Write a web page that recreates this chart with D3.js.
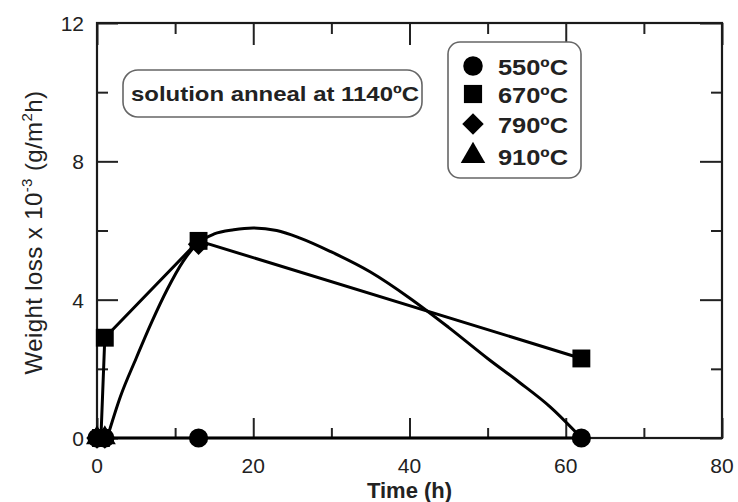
<!DOCTYPE html>
<html>
<head>
<meta charset="utf-8">
<script src="https://cdn.jsdelivr.net/npm/d3@7"></script>
<style>
  html, body { margin: 0; padding: 0; background: #fff; }
  svg { display: block; font-family: "Liberation Sans", Arial, Helvetica, sans-serif; }
</style>
</head>
<body>
<svg id="chart" width="738" height="502"></svg>
<script>
// ---------------- data ----------------
const seriesNames = ["550ºC", "670ºC", "790ºC", "910ºC"];
const symbolTypes = ["circle", "square", "diamond", "triangle"];

const times550 = [0, 1, 13, 62];
const loss550  = [0, 0, 0, 0];

const times670 = [0.5, 1, 13, 62];
const loss670  = [0, 2.9, 5.7, 2.3];

const times790 = [0, 1, 13];
const loss790  = [0, 0, 5.6];

const times910 = [0, 1];
const loss910  = [0, 0];

// smooth curve drawn through the 790ºC results
const curveTimes = [1.3, 3, 5, 7, 9, 11, 13, 15, 17.5, 20, 23, 26, 30, 35, 40, 45, 50, 54, 58, 62];
const curveLoss  = [0, 1.2, 2.3, 3.35, 4.3, 5.1, 5.65, 5.9, 6.02, 6.07, 6.0, 5.78, 5.38, 4.8, 4.05, 3.2, 2.3, 1.62, 0.9, 0];

const xMajorTicks = [0, 20, 40, 60, 80];
const xMinorTicks = [10, 30, 50, 70];
const yMajorTicks = [0, 4, 8, 12];
const yMinorTicks = [2, 6, 10];

const xTitle = "Time (h)";
const annotation = "solution anneal at 1140ºC";

// ---------------- layout ----------------
const svg = d3.select("#chart");
const L = 97, R = 722, T = 23, B = 438;
const x = d3.scaleLinear().domain([0, 80]).range([L, R]);
const y = d3.scaleLinear().domain([0, 12]).range([B, T]);

const zip = (a, b) => a.map((v, i) => [v, b[i]]);
const s550 = zip(times550, loss550);
const s670 = zip(times670, loss670);
const s790 = zip(times790, loss790);
const s910 = zip(times910, loss910);
const fit790 = zip(curveTimes, curveLoss);

// ---------------- axes / ticks ----------------
function addAxis(gen, transform, values, size) {
  const g = svg.append("g").attr("transform", transform)
    .call(gen.tickValues(values).tickSize(size).tickSizeOuter(0).tickPadding(0)
      .tickFormat(() => ""));
  g.select(".domain").remove();
  g.selectAll(".tick line").attr("stroke", "#222").attr("stroke-width", 2);
  return g;
}
// inward ticks: negative sizes
addAxis(d3.axisBottom(x), `translate(0,${B})`, xMajorTicks, -20);
addAxis(d3.axisBottom(x), `translate(0,${B})`, xMinorTicks, -10);
addAxis(d3.axisTop(x), `translate(0,${T})`, xMajorTicks, -22);
addAxis(d3.axisTop(x), `translate(0,${T})`, xMinorTicks, -11);
addAxis(d3.axisLeft(y), `translate(${L},0)`, yMajorTicks, -21);
addAxis(d3.axisLeft(y), `translate(${L},0)`, yMinorTicks, -11);
addAxis(d3.axisRight(y), `translate(${R},0)`, yMajorTicks, -22);
addAxis(d3.axisRight(y), `translate(${R},0)`, yMinorTicks, -11);

// frame
svg.append("rect").attr("x", L).attr("y", T).attr("width", R - L).attr("height", B - T)
  .attr("fill", "none").attr("stroke", "#1a1a1a").attr("stroke-width", 2.2);

// tick labels
svg.append("g").selectAll("text").data(xMajorTicks).join("text")
  .attr("x", d => x(d)).attr("y", B + 35)
  .attr("text-anchor", "middle").attr("font-size", 21).attr("fill", "#222")
  .text(d => d);
svg.append("g").selectAll("text").data(yMajorTicks).join("text")
  .attr("x", L - 13).attr("y", d => y(d) + 8)
  .attr("text-anchor", "end").attr("font-size", 21).attr("fill", "#222")
  .text(d => d);

// axis titles
svg.append("text").attr("x", x(40)).attr("y", 498).attr("text-anchor", "middle")
  .attr("font-size", 22).attr("font-weight", "bold").attr("fill", "#222").text(xTitle);

const yt = svg.append("text").attr("transform", `translate(42,${(T + B) / 2 + 2}) rotate(-90)`)
  .attr("text-anchor", "middle").attr("font-size", 24).attr("letter-spacing", 0.4)
  .attr("fill", "#222");
yt.append("tspan").text("Weight loss x 10");
yt.append("tspan").attr("font-size", 15).attr("dy", -10).text("-3");
yt.append("tspan").attr("dy", 10).text(" (g/m");
yt.append("tspan").attr("font-size", 15).attr("dy", -10).text("2");
yt.append("tspan").attr("dy", 10).text("h)");

// ---------------- data lines ----------------
const line = d3.line().x(d => x(d[0])).y(d => y(d[1]));
const smooth = d3.line().x(d => x(d[0])).y(d => y(d[1])).curve(d3.curveMonotoneX);

const lines = svg.append("g").attr("fill", "none").attr("stroke", "#000").attr("stroke-width", 3)
  .attr("stroke-linejoin", "round");
lines.append("path").attr("d", line(s550));
lines.append("path").attr("d", line(s670));
lines.append("path").attr("d", smooth(fit790));

// ---------------- markers ----------------
const symbolMap = {
  circle: d3.symbolCircle, square: d3.symbolSquare,
  diamond: d3.symbolSquare, triangle: d3.symbolTriangle
};
const symbolRot = { circle: 0, square: 0, diamond: 45, triangle: 0 };
const symbolSize = { circle: 290, square: 320, diamond: 230, triangle: 210 };
function sym(type, size) { return d3.symbol().type(symbolMap[type]).size(size || symbolSize[type])(); }

function drawMarkers(data, type) {
  svg.append("g").selectAll("path").data(data).join("path")
    .attr("transform", d => `translate(${x(d[0])},${y(d[1])}) rotate(${symbolRot[type]})`)
    .attr("d", sym(type)).attr("fill", "#000");
}
drawMarkers(s910, "triangle");
drawMarkers(s790, "diamond");
drawMarkers(s670, "square");
drawMarkers(s550, "circle");

// ---------------- annotation box ----------------
svg.append("rect").attr("x", 123).attr("y", 70).attr("width", 299).attr("height", 47)
  .attr("rx", 15).attr("fill", "#fff").attr("stroke", "#666").attr("stroke-width", 1.6);
svg.append("text").attr("x", 275).attr("y", 101).attr("text-anchor", "middle")
  .attr("font-size", 21).attr("font-weight", "bold").attr("fill", "#222")
  .attr("textLength", 288).attr("lengthAdjust", "spacingAndGlyphs")
  .text(annotation);

// ---------------- legend ----------------
const lg = svg.append("g");
lg.append("rect").attr("x", 448).attr("y", 42).attr("width", 133).attr("height", 136)
  .attr("rx", 12).attr("fill", "#fff").attr("stroke", "#666").attr("stroke-width", 1.6);
const rowY = [66, 94, 124, 156];
const legendSize = { circle: 300, square: 330, diamond: 230, triangle: 260 };
seriesNames.forEach((name, i) => {
  const t = symbolTypes[i];
  lg.append("path").attr("transform", `translate(473,${rowY[i]}) rotate(${symbolRot[t]})`)
    .attr("d", sym(t, legendSize[t]))
    .attr("fill", "#000");
  lg.append("text").attr("x", 498).attr("y", rowY[i] + 9)
    .attr("font-size", 22).attr("font-weight", "bold").attr("fill", "#222")
    .attr("textLength", 70).attr("lengthAdjust", "spacingAndGlyphs")
    .text(name);
});
</script>
</body>
</html>
